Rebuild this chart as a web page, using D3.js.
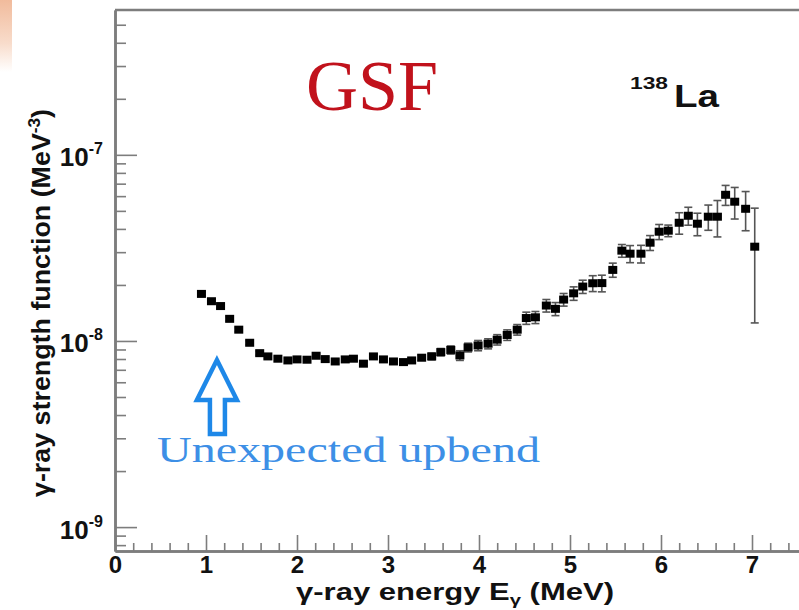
<!DOCTYPE html>
<html><head><meta charset="utf-8">
<script src="https://cdn.jsdelivr.net/npm/d3@7"></script>
<style>body{margin:0;background:#fff} svg{display:block}</style>
</head><body>
<svg id="chart" width="799" height="610"></svg>
<script>
// gamma-ray energy (MeV)
const energy = [0.95,1.06,1.16,1.26,1.36,1.48,1.59,1.68,1.79,1.90,2.00,2.11,2.21,2.31,2.42,2.53,2.62,2.73,2.84,2.95,
  3.06,3.17,3.26,3.37,3.48,3.58,3.69,3.79,3.88,3.99,4.10,4.20,4.31,4.42,4.52,4.62,4.74,4.84,4.93,5.04,
  5.14,5.25,5.35,5.47,5.57,5.66,5.78,5.88,5.98,6.08,6.20,6.30,6.40,6.52,6.62,6.71,6.81,6.93,7.03];
// gamma-ray strength function (units of 1e-8 MeV^-3)
const strength = [1.79,1.635,1.54,1.315,1.15,0.978,0.86,0.826,0.803,0.786,0.796,0.793,0.833,0.799,0.776,0.796,0.803,0.755,0.826,0.796,
  0.776,0.770,0.786,0.813,0.826,0.871,0.895,0.836,0.923,0.946,0.967,1.016,1.077,1.150,1.328,1.340,1.550,1.488,1.669,1.803,
  1.960,2.042,2.046,2.409,3.057,2.944,2.944,3.373,3.864,3.913,4.316,4.707,4.266,4.652,4.652,6.10,5.60,5.13,3.21];
// statistical errors (units of 1e-8 MeV^-3)
const errors = [0.045,0.04,0.04,0.035,0.03,0.025,0.022,0.021,0.02,0.02,0.02,0.02,0.022,0.021,0.02,0.021,0.022,0.021,0.023,0.022,
  0.022,0.022,0.024,0.026,0.035,0.04,0.045,0.05,0.05,0.06,0.06,0.065,0.07,0.075,0.10,0.10,0.12,0.12,0.13,0.15,
  0.16,0.20,0.21,0.21,0.24,0.31,0.32,0.31,0.36,0.28,0.57,0.52,0.59,0.72,1.03,0.75,1.08,1.22,1.96];
const unit = 1e-8;
const xMajorTicks = [0,1,2,3,4,5,6,7];
const xMinorTicks = [0.2,0.4,0.6,0.8,1.2,1.4,1.6,1.8,2.2,2.4,2.6,2.8,3.2,3.4,3.6,3.8,4.2,4.4,4.6,4.8,5.2,5.4,5.6,5.8,6.2,6.4,6.6,6.8,7.2,7.4,7.6,7.8];
const yMajorTicks = [1e-9,1e-8,1e-7];
const yMajorExponents = ["-9","-8","-7"];
const yMinorTicks = [8e-10,9e-10,2e-9,3e-9,4e-9,5e-9,6e-9,7e-9,8e-9,9e-9,2e-8,3e-8,4e-8,5e-8,6e-8,7e-8,8e-8,9e-8,2e-7,3e-7,4e-7,5e-7];

const svg = d3.select("#chart");
const defs = svg.append("defs");
const grad = defs.append("linearGradient").attr("id","peach").attr("x1",0).attr("y1",0).attr("x2",0).attr("y2",1);
grad.append("stop").attr("offset","0").attr("stop-color","#f1bb9c");
grad.append("stop").attr("offset","0.6").attr("stop-color","#f8dccb");
grad.append("stop").attr("offset","1").attr("stop-color","#ffffff");
svg.append("rect").attr("x",0).attr("y",0).attr("width",12).attr("height",72).attr("fill","url(#peach)");

const x = d3.scaleLinear().domain([0,8]).range([115,843]);
const y = d3.scaleLog().domain([7.44e-10,6e-7]).range([551,10]);
const axisColor = "#7d7d7d";
const sans = "Liberation Sans, Arial, sans-serif";

// X axis
const gx = svg.append("g").attr("transform",`translate(0,${y.range()[0]})`);
gx.append("g").call(d3.axisBottom(x).tickValues(xMinorTicks).tickSize(-8).tickSizeOuter(0).tickFormat(""));
gx.append("g").call(d3.axisBottom(x).tickValues(xMajorTicks).tickSize(-16).tickSizeOuter(0).tickPadding(7).tickFormat(d3.format("d")));
gx.selectAll("path.domain").attr("stroke",axisColor).attr("stroke-width",2.5);
gx.selectAll(".tick line").attr("stroke",axisColor).attr("stroke-width",1.6);
gx.selectAll(".tick text").attr("fill","#111").attr("font-family",sans)
  .attr("font-weight","bold").attr("font-size",24).attr("dy","0.64em");

// Y axis
const gy = svg.append("g").attr("transform",`translate(${x.range()[0]},0)`);
gy.append("g").call(d3.axisLeft(y).tickValues(yMinorTicks).tickSize(-11).tickSizeOuter(0).tickFormat(""));
const gyMaj = gy.append("g").call(d3.axisLeft(y).tickValues(yMajorTicks).tickSize(-22).tickSizeOuter(0).tickPadding(12).tickFormat(""));
gy.selectAll("path.domain").attr("stroke",axisColor).attr("stroke-width",2.5);
gy.selectAll(".tick line").attr("stroke",axisColor).attr("stroke-width",1.6);
gyMaj.selectAll(".tick text").each(function(d,i){
  const t = d3.select(this).attr("dy","0.42em").attr("fill","#111")
    .attr("font-family",sans).attr("font-weight","bold").attr("font-size",26);
  t.append("tspan").text("10");
  t.append("tspan").attr("font-size",16).attr("dy","-0.75em").text(yMajorExponents[i]);
});

// top frame line
svg.append("line").attr("x1",x.range()[0]).attr("x2",799).attr("y1",y.range()[1]).attr("y2",y.range()[1])
  .attr("stroke",axisColor).attr("stroke-width",2.5);

// data
const data = energy.map((e,i)=>({e, v: strength[i]*unit, err: errors[i]*unit}));
const eg = svg.append("g");
const cap = 4;
data.forEach(d=>{
  const lo = Math.max(d.v - d.err, y.domain()[0]);
  const hi = d.v + d.err;
  const cx = x(d.e);
  eg.append("line").attr("x1",cx).attr("x2",cx).attr("y1",y(lo)).attr("y2",y(hi)).attr("stroke","#555").attr("stroke-width",1.6);
  eg.append("line").attr("x1",cx-cap).attr("x2",cx+cap).attr("y1",y(lo)).attr("y2",y(lo)).attr("stroke","#555").attr("stroke-width",1.6);
  eg.append("line").attr("x1",cx-cap).attr("x2",cx+cap).attr("y1",y(hi)).attr("y2",y(hi)).attr("stroke","#555").attr("stroke-width",1.6);
});
svg.append("g").selectAll("rect").data(data).join("rect")
  .attr("x",d=>x(d.e)-4.5).attr("y",d=>y(d.v)-4).attr("width",9).attr("height",8).attr("fill","#000");

// axis titles
svg.append("text").attr("x",296).attr("y",600).attr("fill","#111")
  .attr("font-family",sans).attr("font-weight","bold").attr("font-size",23)
  .attr("textLength",318).attr("lengthAdjust","spacingAndGlyphs")
  .call(t=>{ t.append("tspan").text("γ-ray energy E");
             t.append("tspan").attr("font-size",15).attr("dy","0.35em").text("γ");
             t.append("tspan").attr("dy","-0.23em").text(" (MeV)"); });
svg.append("text").attr("transform","translate(50,497) rotate(-90)").attr("fill","#111")
  .attr("font-family",sans).attr("font-weight","bold").attr("font-size",25)
  .attr("textLength",388).attr("lengthAdjust","spacingAndGlyphs")
  .call(t=>{ t.append("tspan").text("γ-ray strength function (MeV");
             t.append("tspan").attr("font-size",16).attr("dy","-0.6em").text("-3");
             t.append("tspan").attr("dy","0.38em").text(")"); });

// nucleus label
svg.append("text").attr("x",630).attr("y",89).attr("fill","#111")
  .attr("font-family",sans).attr("font-weight","bold").attr("font-size",17)
  .attr("textLength",38).attr("lengthAdjust","spacingAndGlyphs").text("138");
svg.append("text").attr("x",674).attr("y",107).attr("fill","#111")
  .attr("font-family",sans).attr("font-weight","bold").attr("font-size",31)
  .attr("textLength",45).attr("lengthAdjust","spacingAndGlyphs").text("La");

// slide annotations
svg.append("text").attr("x",306).attr("y",110).attr("fill","#c1121c")
  .attr("font-family","Liberation Serif, Times New Roman, serif").attr("font-size",72).text("GSF");
svg.append("text").attr("x",157).attr("y",462).attr("fill","#3d8fe6")
  .attr("font-family","Liberation Serif, Times New Roman, serif").attr("font-size",36)
  .attr("textLength",383).attr("lengthAdjust","spacingAndGlyphs").text("Unexpected upbend");

const tipX = x(1.12), tipY = y(7.9e-9);
const arrowPts = [[0,0],[20,40],[8,40],[8,74],[-7,74],[-7,40],[-20,40]];
svg.append("path").attr("d", "M" + arrowPts.map(p=>[tipX+p[0], tipY+p[1]].join(",")).join("L") + "Z")
  .attr("fill","#fff").attr("stroke","#1e88e8").attr("stroke-width",4.5).attr("stroke-linejoin","miter");
</script>
</body></html>
